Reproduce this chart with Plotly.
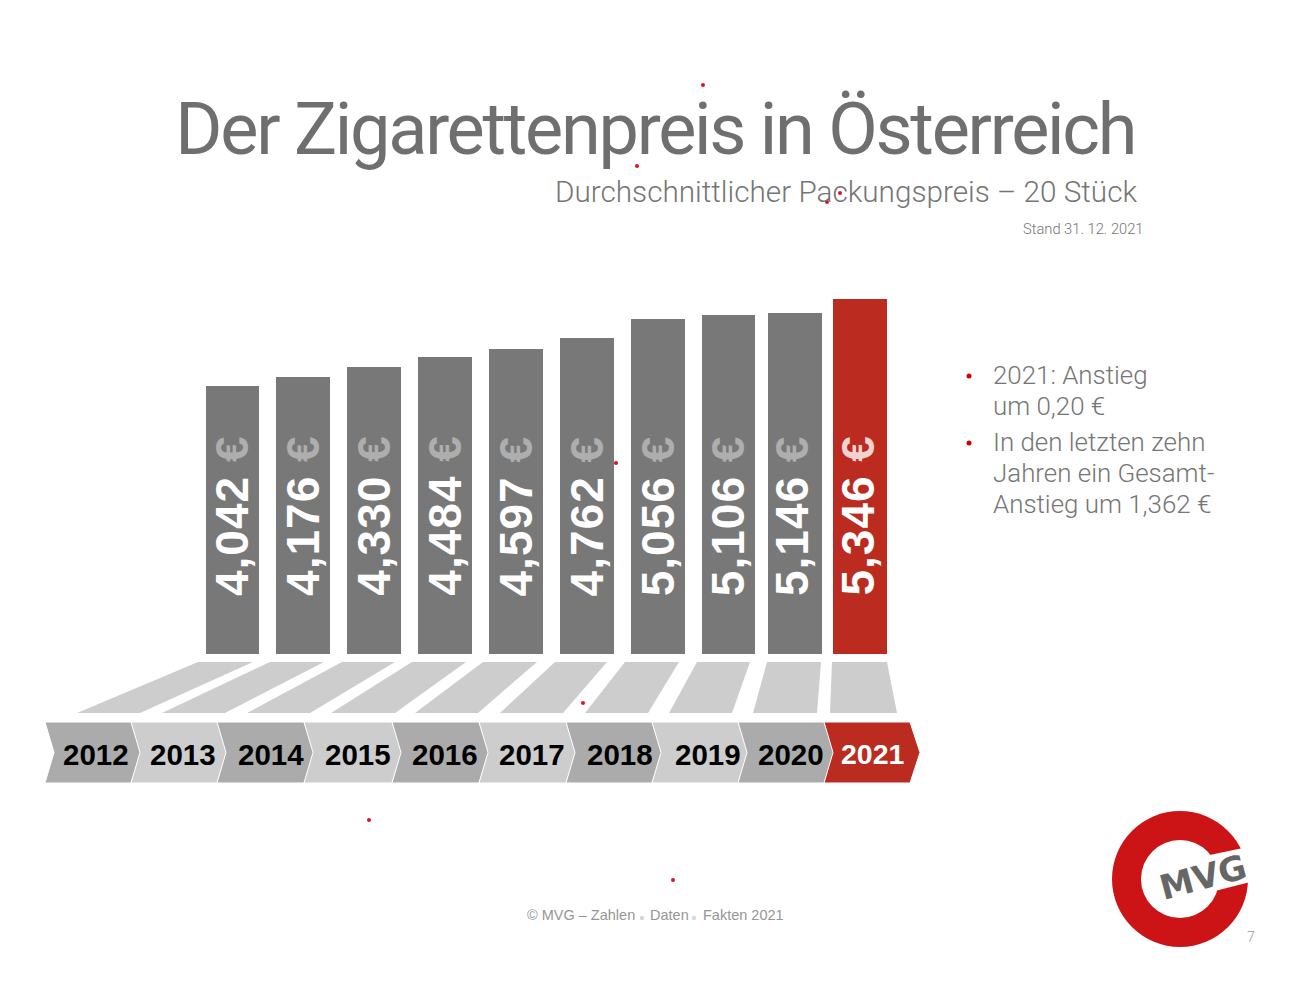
import plotly.graph_objects as go

W = 1310
H = 983

#Average pack price per year
years = ["2012", "2013", "2014", "2015", "2016", "2017", "2018", "2019", "2020", "2021"]
prices = [4.042, 4.176, 4.330, 4.484, 4.597, 4.762, 5.056, 5.106, 5.146, 5.346]
price_labels = ["4,042", "4,176", "4,330", "4,484", "4,597", "4,762", "5,056", "5,106", "5,146", "5,346"]

GREY = "#787878"
RED = "#bc2b20"
TEXT = "#757575"
LIGHT = "#cecdce"
MID = "#ababab"
ROBOTO = "Roboto"
ARIAL = "Liberation Sans"

#Decor shapes of the slide, pixels from top left
chevron_x = [45, 131, 217, 304, 392, 479, 566, 652, 738, 824, 910]
year_label_x = [96, 183.5, 270.5, 358, 445, 532, 620, 707.5, 791, 873]
floor_top = [(198, 253), (270, 324), (342, 395), (412, 466), (483, 537),
             (555, 607), (625, 679), (697, 750), (767, 821), (832, 887)]
floor_bottom = [(77, 140), (162, 225), (247, 310), (331, 395), (415, 478),
                (500, 563), (585, 648), (669, 732), (753, 817), (830, 897)]
specks = [(703, 85), (637, 166), (840, 193), (827, 202), (616, 463),
          (583, 703), (369, 820), (673, 880)]


def px(x):
    return x / W


def py(y):
    return 1 - y / H


def poly(points, color, line=None, width=0):
    path = "M " + " L ".join(f"{px(x):.5f},{py(y):.5f}" for x, y in points) + " Z"
    return dict(type="path", path=path, xref="paper", yref="paper", fillcolor=color,
                line=dict(color=line or color, width=width), layer="above")


def dot(x, y, r, color):
    return dict(type="circle", xref="paper", yref="paper", x0=px(x - r), x1=px(x + r),
                y0=py(y + r), y1=py(y - r), fillcolor=color, line=dict(width=0), layer="above")


def label(text, x, y, size, color=TEXT, anchor="left", font=ROBOTO, weight=300, angle=0):
    return dict(text=text, x=px(x), y=py(y), xref="paper", yref="paper", xanchor=anchor,
                yanchor="middle", showarrow=False, textangle=angle, borderpad=0,
                font=dict(family=font, size=size, color=color, weight=weight))


#Bars: the first eight are spaced a bit wider than the last two
fig = go.Figure()
fig.add_trace(go.Bar(x=years[:8], y=prices[:8], marker_color=GREY, marker_line_width=0,
                     width=0.76, xaxis="x", yaxis="y", showlegend=False))
fig.add_trace(go.Bar(x=years[8:], y=prices[8:], marker_color=[GREY, RED], marker_line_width=0,
                     width=0.82, xaxis="x2", yaxis="y", showlegend=False))

annotations = []
for i, year in enumerate(years):
    euro = "#f0d2d0" if year == "2021" else "#aeaeae"
    #category axes take the position here, a year string would be read as a number
    annotations.append(dict(
        text=f"{price_labels[i]} <span style='color:{euro}'>€</span>",
        x=i if i < 8 else i - 8, y=0.895, xref="x" if i < 8 else "x2", yref="y",
        xshift=0 if i < 8 else -2.5,
        xanchor="center", yanchor="bottom", showarrow=False, textangle=-90,
        font=dict(family=ARIAL, size=46, color="white", weight=700)))

#Year arrows and floor below the bars
shapes = []
for i, year in enumerate(years):
    top = floor_top[i]
    bottom = floor_bottom[i]
    shapes.append(poly([(top[0], 662), (top[1], 662), (bottom[1], 713), (bottom[0], 713)], LIGHT))

    x0 = chevron_x[i]
    x1 = chevron_x[i + 1]
    if year == "2021":
        fill = RED
    elif i % 2 == 0:
        fill = MID
    else:
        fill = LIGHT
    shapes.append(poly([(x0, 722), (x1, 722), (x1 + 10, 752.5), (x1, 783), (x0, 783), (x0 + 9, 752.5)],
                       fill, line="white", width=1))
    color = "white" if year == "2021" else "black"
    size = 28.5 if year == "2021" else 29.5
    annotations.append(label(year, year_label_x[i], 754, size, color, "center", ARIAL, 700))

#Titles
annotations.append(label("Der Zigarettenpreis in Österreich", 1173, 130, 72, "#6f6f6f", "right", weight=400))
annotations.append(label("Durchschnittlicher Packungspreis – 20 Stück", 1138, 192, 29.7, TEXT, "right"))
annotations.append(label("Stand 31. 12. 2021", 1144, 229, 14.7, TEXT, "right"))

#Bullet text
bullet_lines = [("2021: Anstieg", 375), ("um 0,20 €", 406), ("In den letzten zehn", 442),
                ("Jahren ein Gesamt-", 473), ("Anstieg um 1,362 €", 504)]
for line, y in bullet_lines:
    annotations.append(label(line, 992, y, 25.9))
shapes.append(dot(969, 376, 2.5, "#d40000"))
shapes.append(dot(969, 443, 2.5, "#d40000"))

#Footer
annotations.append(label("© MVG – Zahlen", 526, 915, 14.5, "#969696", font=ARIAL, weight=400))
annotations.append(label("Daten", 649, 915, 14.5, "#969696", font=ARIAL, weight=400))
annotations.append(label("Fakten 2021", 702, 915, 14.5, "#969696", font=ARIAL, weight=400))
shapes.append(dot(642, 918, 2.2, "#d8d8d8"))
shapes.append(dot(694, 918, 2.2, "#d8d8d8"))
annotations.append(label("7", 1251, 937, 14, "#999999", "center"))

#Stray red specks
for x, y in specks:
    shapes.append(dot(x, y, 2, "#e0102a"))

#Logo: red ring with a white slot for the name
shapes.append(dot(1180, 879, 68, "#cc1417"))
shapes.append(dot(1180, 879, 39, "white"))
shapes.append(poly([(1205, 856), (1262, 844), (1262, 879), (1215, 891)], "white"))
annotations.append(label("MVG", 1203, 877, 34, "#666666", "center", "DejaVu Sans", 700, angle=-15))

#One pixel on the y axis is 1/66.4 of a euro, zero sits at the bar foot
y_top = 654 - 6 * 66.4
fig.update_layout(
    width=W,
    height=H,
    autosize=False,
    margin=dict(l=0, r=0, t=0, b=0),
    paper_bgcolor="white",
    plot_bgcolor="white",
    bargap=0,
    xaxis=dict(domain=[px(196.5), px(763.5)], type="category", categoryorder="array",
               categoryarray=years[:8], range=[-0.5, 7.5], visible=False, anchor="y"),
    xaxis2=dict(domain=[px(761.75), px(892.75)], type="category", categoryorder="array",
                categoryarray=years[8:], range=[-0.5, 1.5], visible=False, anchor="y"),
    yaxis=dict(domain=[py(654), py(y_top)], range=[0, 6], visible=False),
    shapes=shapes,
    annotations=annotations,
)

#The slide title is set tighter than the font's own spacing, the bar labels wider
spacing = """
document.body.style.margin = '0';
document.querySelectorAll('.annotation-text').forEach(function (t) {
  if (t.textContent.indexOf('Der Zigaretten') === 0) { t.style.letterSpacing = '-2.26px'; }
  if (t.textContent.indexOf('€') === 6) { t.style.letterSpacing = '1px'; }
});
"""
fig.write_html("out.html", post_script=spacing, config={"displayModeBar": False})
